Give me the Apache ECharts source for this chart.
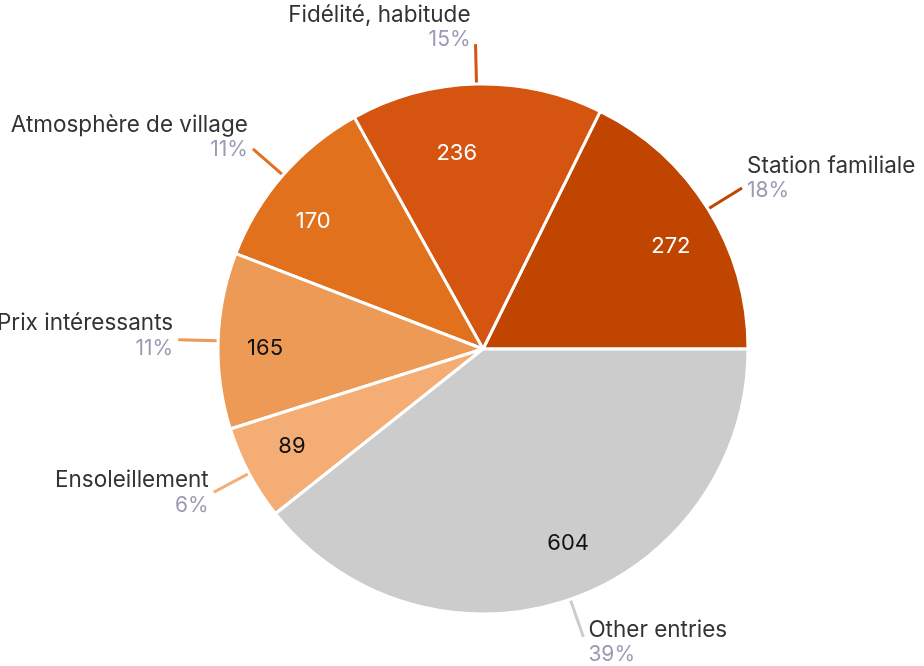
<!DOCTYPE html>
<html>
<head>
<meta charset="utf-8">
<script src="https://cdn.jsdelivr.net/npm/echarts@6/dist/echarts.min.js"></script>
<style>
html,body{margin:0;padding:0;background:#fff;overflow:hidden;width:924px;height:666px;}
#chart{position:absolute;left:-100px;top:0;width:1124px;height:666px;}
</style>
</head>
<body>
<div id="chart"></div>
<script>
const categories = ["Station familiale", "Fidélité, habitude", "Atmosphère de village", "Prix intéressants", "Ensoleillement", "Other entries"];
const values = [272, 236, 170, 165, 89, 604];
const colors = ["#c04500", "#d5540f", "#e2711d", "#ed9a56", "#f3ad75", "#cccccc"];
const innerTextColors = ["#ffffff", "#ffffff", "#ffffff", "#111111", "#111111", "#111111"];
// label styling tweaks (padding shifts outer label blocks; offsets nudge inner value labels)
const outerLabelPadding = [[0,0,20,0],[0,0,34,0],[0,0,24,0],[0,0,8,0],[0,0,0,0],[10,0,0,0]];
const innerLabelOffsets = [[7,10],[-21,17],[-9,12],[-5,6],[-3,-3],[15,-7]];

const FONT = "Inter";
const total = values.reduce((a, b) => a + b, 0);
const data = categories.map((c, i) => ({
  name: c, value: values[i], itemStyle: { color: colors[i] },
  label: { padding: outerLabelPadding[i] }
}));
const ringData = categories.map((c, i) => ({
  name: c, value: values[i],
  label: { color: innerTextColors[i], offset: innerLabelOffsets[i] }
}));

const chart = echarts.init(document.getElementById('chart'), null, { renderer: 'canvas' });
chart.setOption({
  animation: false,
  series: [
    {
      type: 'pie',
      center: [583, 349],
      radius: [0, 265],
      startAngle: 0,
      clockwise: false,
      avoidLabelOverlap: false,
      data: data,
      itemStyle: { borderColor: '#ffffff', borderWidth: 3 },
      label: {
        show: true,
        position: 'outside',
        formatter: p => '{n|' + p.name + '}\n{p|' + Math.round(p.value / total * 100) + '%}',
        rich: {
          n: { fontFamily: FONT, fontSize: 22.5, color: '#333333', lineHeight: 26 },
          p: { fontFamily: FONT, fontSize: 21, color: '#9a9ab4', lineHeight: 24 }
        }
      },
      labelLine: { show: true, length: 40, length2: 0, smooth: false, lineStyle: { width: 3 } },
      emphasis: { disabled: true }
    },
    {
      type: 'pie',
      center: [583, 349],
      radius: [155, 265],
      startAngle: 0,
      clockwise: false,
      silent: true,
      data: ringData,
      itemStyle: { color: 'rgba(0,0,0,0)', borderWidth: 0 },
      label: {
        show: true,
        position: 'inside',
        formatter: p => String(p.value),
        fontFamily: FONT,
        fontSize: 22
      },
      labelLine: { show: false },
      emphasis: { disabled: true }
    }
  ]
});
</script>
</body>
</html>
